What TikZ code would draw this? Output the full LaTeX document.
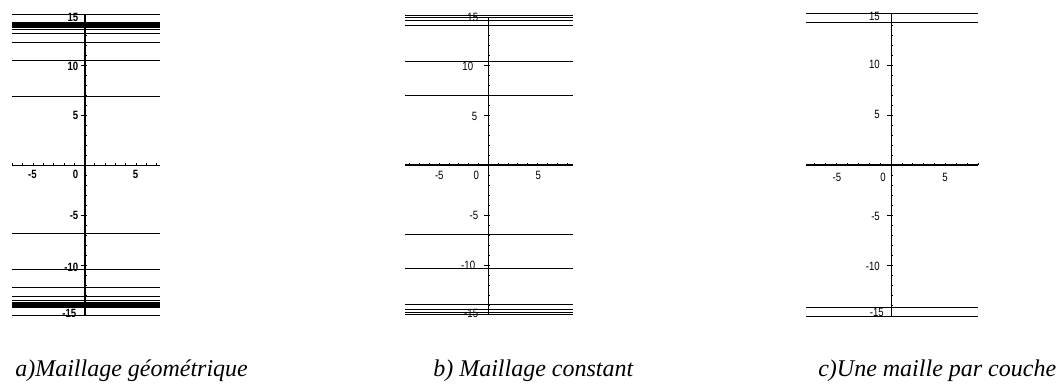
\documentclass[tikz,border=0pt]{standalone}
\usepackage{fontspec}
\setmainfont{Liberation Serif}
\newfontfamily\tickfont{Liberation Sans}
\begin{document}
\begin{tikzpicture}[x=0.75pt,y=-0.75pt,
  gridline/.style={line width=0.75pt},
  thinaxis/.style={line width=0.75pt},
  thickaxis/.style={line width=1.5pt},
  minortick/.style={line width=0.6pt},
  ticklbl/.style={font=\tickfont\fontsize{9}{9}\selectfont, xscale=0.8, inner sep=0pt},
  ylbl/.style={ticklbl, anchor=east},
  xlbl/.style={ticklbl, anchor=center},
  caption/.style={font=\itshape\fontsize{18}{18}\selectfont, anchor=base west, inner sep=0pt}]
\useasboundingbox (0,0) rectangle (1060,385);

% ---------------- Panel a ----------------
\begin{scope}[shift={(84.5,165)}, x=0.75pt, y=7.5pt]
  \foreach \v in {15,14.225,14.1125,14.05,14,13.95,13.8875,13.775,13.55,13.1,12.2,10.4,6.8}{
    \draw[gridline] (-72.5,\v) -- (75.5,\v);
    \draw[gridline] (-72.5,-\v) -- (75.5,-\v);
  }
  \draw[thinaxis] (-72.5,0) -- (75.5,0);
  \foreach \i in {-7,...,7}{\draw[minortick] (\i*10.3,0) -- (\i*10.3,0.2);}
  \draw[thickaxis] (0,15) -- (0,-15);
  \foreach \i in {-14,...,14}{\draw[minortick] (0,\i) -- (2.5,\i);}
  \foreach \i in {-10,-5,5,10}{\draw[minortick] (-4,\i) -- (0,\i);}
  \node[ylbl,font=\tickfont\bfseries\fontsize{9}{9}\selectfont] (a15) at (-6,14.8) {15};
  \node[ylbl,font=\tickfont\bfseries\fontsize{9}{9}\selectfont] (a10) at (-6,9.9) {10};
  \node[ylbl,font=\tickfont\bfseries\fontsize{9}{9}\selectfont] (a5) at (-6,5) {5};
  \node[ylbl,font=\tickfont\bfseries\fontsize{9}{9}\selectfont] (am5) at (-6,-5) {-5};
  \node[ylbl,font=\tickfont\bfseries\fontsize{9}{9}\selectfont] (am10) at (-6,-10.2) {-10};
  \node[ylbl,font=\tickfont\bfseries\fontsize{9}{9}\selectfont] (am15) at (-8,-14.8) {-15};
  \node[xlbl,font=\tickfont\bfseries\fontsize{9}{9}\selectfont] (axm5) at (-52,-0.95) {-5};
  \node[xlbl,font=\tickfont\bfseries\fontsize{9}{9}\selectfont] (ax0) at (-9,-0.95) {0};
  \node[xlbl,font=\tickfont\bfseries\fontsize{9}{9}\selectfont] (ax5) at (51,-0.95) {5};
\end{scope}

% ---------------- Panel b ----------------
\begin{scope}[shift={(488.3,165)}, x=0.75pt, y=7.5pt]
  \foreach \v in {14.95,14.7,14.4,13.95,10.33,6.9}{
    \draw[gridline] (-83.3,\v) -- (84.4,\v);
    \draw[gridline] (-83.3,-\v) -- (84.4,-\v);
  }
  \draw[thickaxis] (-83.3,0) -- (84.4,0);
  \foreach \i in {-8,...,8}{\draw[minortick] (\i*9.85,0) -- (\i*9.85,0.2);}
  \draw[thinaxis] (0,14.8) -- (0,-14.9);
  \foreach \i in {-14,...,14}{\draw[minortick] (0,\i) -- (1.8,\i);}
  \foreach \i in {-10,-5,5,10}{\draw[minortick] (-4,\i) -- (0,\i);}
  \node[ylbl] (b15) at (-10,14.8) {15};
  \node[ylbl] (b10) at (-15,9.9) {10};
  \node[ylbl] (b5) at (-11,4.9) {5};
  \node[ylbl] (bm5) at (-10,-5) {-5};
  \node[ylbl] (bm10) at (-13,-10) {-10};
  \node[ylbl] (bm15) at (-10,-14.8) {-15};
  \node[xlbl] (bxm5) at (-49,-1.05) {-5};
  \node[xlbl] (bx0) at (-12,-1.05) {0};
  \node[xlbl] (bx5) at (50,-1.05) {5};
\end{scope}

% ---------------- Panel c ----------------
\begin{scope}[shift={(891,165)}, x=0.75pt, y=7.5pt]
  \foreach \v in {15.1,14.2}{
    \draw[gridline] (-85,\v) -- (87.3,\v);
    \draw[gridline] (-85,-\v) -- (87.3,-\v);
  }
  \draw[thickaxis] (-85,0) -- (87.3,0);
  \foreach \i in {-7,...,8}{\draw[minortick] (\i*10.9,0) -- (\i*10.9,0.2);}
  \draw[thinaxis] (0,15.1) -- (0,-15.2);
  \foreach \i in {-14,...,14}{\draw[minortick] (0,\i) -- (1.8,\i);}
  \foreach \i in {-10,-5,5,10}{\draw[minortick] (-4,\i) -- (0,\i);}
  \node[ylbl] (c15) at (-11,14.9) {15};
  \node[ylbl] (c10) at (-11,10.1) {10};
  \node[ylbl] (c5) at (-11,5.1) {5};
  \node[ylbl] (cm5) at (-11,-5.1) {-5};
  \node[ylbl] (cm10) at (-11,-10.1) {-10};
  \node[ylbl] (cm15) at (-7,-14.7) {-15};
  \node[xlbl] (cxm5) at (-54,-1.2) {-5};
  \node[xlbl] (cx0) at (-8,-1.2) {0};
  \node[xlbl] (cx5) at (54,-1.2) {5};
\end{scope}

% ---------------- Captions ----------------
\node[caption] (capa) at (15,376) {a)Maillage géométrique};
\node[caption] (capb) at (433,376) {b) Maillage constant};
\node[caption] (capc) at (818,376) {c)Une maille par couche};
\end{tikzpicture}
\end{document}
